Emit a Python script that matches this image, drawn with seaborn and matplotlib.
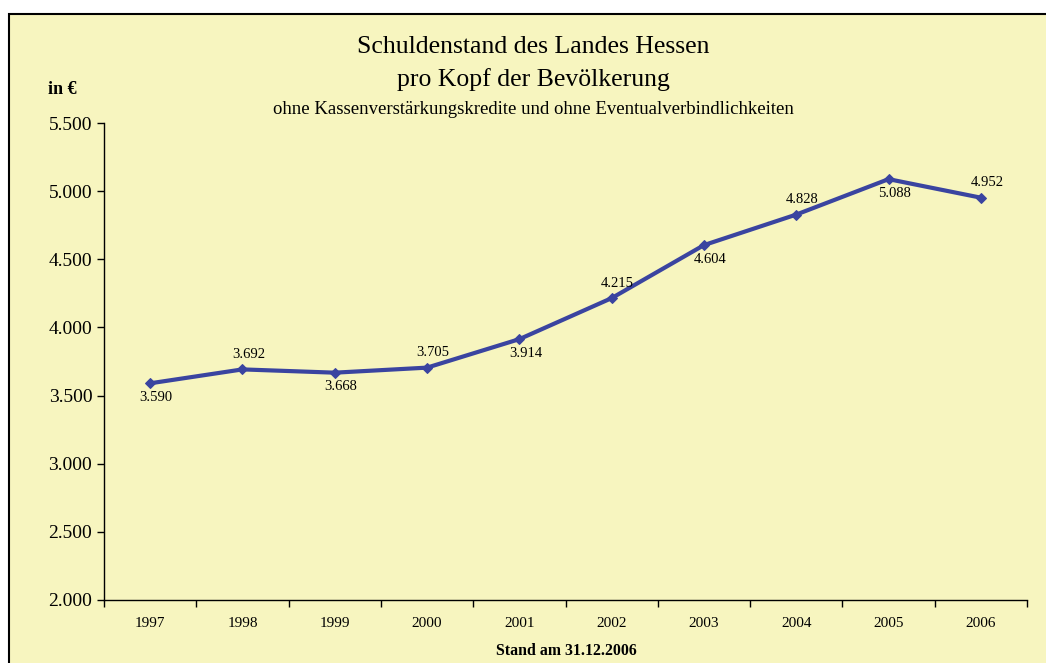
import matplotlib
matplotlib.use("Agg")
import matplotlib.pyplot as plt
import seaborn as sns
from matplotlib.patches import Rectangle

years = ["1997", "1998", "1999", "2000", "2001", "2002", "2003", "2004", "2005", "2006"]
debt = [3590, 3692, 3668, 3705, 3914, 4215, 4604, 4828, 5088, 4952]
label_pos = ["below", "above", "below", "above", "below", "above", "below", "above", "below", "above"]
yticks = [2000, 2500, 3000, 3500, 4000, 4500, 5000, 5500]

def fmt(v):
    return f"{v:,}".replace(",", ".")

sns.set_theme(style="white")
plt.rcParams["font.family"] = ["Liberation Serif", "DejaVu Serif"]
plt.rcParams["text.color"] = "black"
plt.rcParams["xtick.color"] = "black"
plt.rcParams["ytick.color"] = "black"

bg = "#F7F5BF"
line_col = "#3A44A0"

fig = plt.figure(figsize=(10.46, 6.63), dpi=100)
fig.patch.set_facecolor("white")
top = 1 - 14 / 663
frame = Rectangle((9 / 1046, -0.05), 1.2, top + 0.05, transform=fig.transFigure,
                  facecolor=bg, edgecolor="black", linewidth=1.5, zorder=-1)
fig.add_artist(frame)

ax = fig.add_axes([104 / 1046, 1 - 600 / 663, 923 / 1046, 477 / 663])
ax.patch.set_alpha(0)
ax.set_zorder(1)

x = list(range(len(years)))
sns.lineplot(x=x, y=debt, ax=ax, color=line_col, linewidth=3, marker="D",
             markersize=5, markeredgecolor=line_col)

for xi, v, pos in zip(x, debt, label_pos):
    off = 10.8 if pos == "above" else -10
    ax.annotate(fmt(v), (xi, v), xytext=(4.3, off), textcoords="offset points",
                ha="center", va="center", fontsize=10.5, color="black")

ax.set_xlim(-0.5, len(years) - 0.5)
ax.set_ylim(2000, 5500)
ax.set_yticks(yticks)
ax.set_yticklabels([fmt(t) for t in yticks], fontsize=14)
ax.set_xticks([i + 0.5 for i in range(-1, len(years))])
ax.set_xticklabels([])
ax.set_xticks(x, minor=True)
ax.set_xticklabels(years, minor=True, fontsize=11)
ax.tick_params(axis="x", which="minor", length=0, pad=12)
ax.tick_params(axis="both", which="major", length=5, width=1, color="black", direction="out")
ax.tick_params(axis="both", bottom=True, left=True)
for s in ["top", "right"]:
    ax.spines[s].set_visible(False)
for s in ["left", "bottom"]:
    ax.spines[s].set_color("black")
    ax.spines[s].set_linewidth(1)

fig.text(533 / 1046, 1 - 47 / 663, "Schuldenstand des Landes Hessen", ha="center", va="center", fontsize=18.5)
fig.text(533 / 1046, 1 - 80 / 663, "pro Kopf der Bevölkerung", ha="center", va="center", fontsize=18.5)
fig.text(533 / 1046, 1 - 110 / 663, "ohne Kassenverstärkungskredite und ohne Eventualverbindlichkeiten",
         ha="center", va="center", fontsize=13.5)
fig.text(48 / 1046, 1 - 89 / 663, "in €", ha="left", va="center", fontsize=13, fontweight="bold")
fig.text(566 / 1046, 1 - 651 / 663, "Stand am 31.12.2006", ha="center", va="center",
         fontsize=11.4, fontweight="bold")

fig.savefig("out.png", dpi=100, facecolor=fig.get_facecolor())
